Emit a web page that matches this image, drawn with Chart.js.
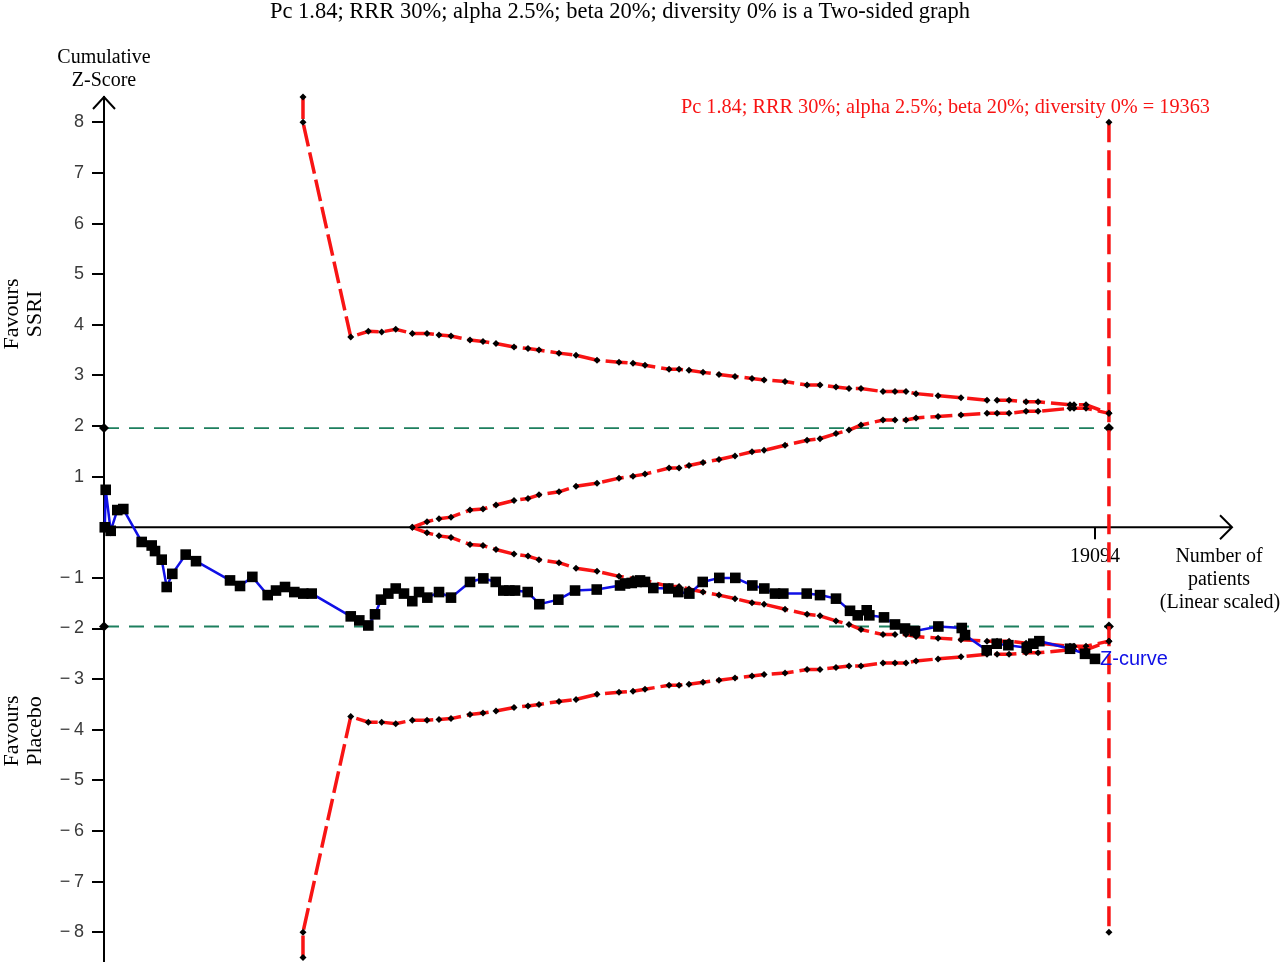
<!DOCTYPE html>
<html>
<head>
<meta charset="utf-8">
<title>Trial sequential analysis</title>
<script src="https://cdn.jsdelivr.net/npm/chart.js@4.4.0/dist/chart.umd.min.js"></script>
<style>
  html, body { margin: 0; padding: 0; background: #fff; }
  #wrap { width: 1283px; height: 962px; position: relative; }
</style>
</head>
<body>
<div id="wrap"><canvas id="chart-tsa" width="1283" height="962"></canvas></div>
<script>
// ========================================
// TSA chart — cumulative Z-curve vs monitoring boundaries
// ========================================

const TITLE = 'Pc 1.84; RRR 30%; alpha 2.5%; beta 20%; diversity 0% is a Two-sided graph';
const RIS_LABEL = 'Pc 1.84; RRR 30%; alpha 2.5%; beta 20%; diversity 0% = 19363';

// Z-curve (cumulative patients, cumulative Z)
const zPatients = [15, 33, 129, 256, 372, 726, 919, 983, 1112, 1208, 1316, 1574, 1773, 2428, 2621,
  2858, 3154, 3314, 3488, 3667, 3840, 4002, 4754, 4919, 5093, 5222, 5337, 5478, 5621, 5780,
  5940, 6070, 6230, 6455, 6686, 7052, 7309, 7548, 7694, 7810, 7920, 8164, 8388, 8754, 9076,
  9494, 9943, 10039, 10168, 10264, 10328, 10424, 10584, 10873, 11066, 11278, 11536, 11856, 12164, 12492,
  12723, 12929, 13089, 13540, 13796, 14104, 14374, 14523, 14696, 14746, 15029, 15241, 15434, 15627, 16076,
  16527, 16590, 17008, 17201, 17425, 17779, 17906, 18022, 18613, 18902, 19094];
const zScores = [0.0, 0.74, -0.07, 0.34, 0.36, -0.29, -0.36, -0.47, -0.64, -1.18, -0.92, -0.54, -0.67, -1.05, -1.16,
  -0.98, -1.34, -1.25, -1.18, -1.28, -1.31, -1.31, -1.76, -1.84, -1.94, -1.72, -1.43, -1.31, -1.21, -1.31,
  -1.46, -1.28, -1.39, -1.28, -1.39, -1.08, -1.01, -1.08, -1.25, -1.25, -1.25, -1.28, -1.52, -1.43, -1.25,
  -1.23, -1.15, -1.11, -1.10, -1.08, -1.05, -1.08, -1.20, -1.21, -1.28, -1.31, -1.08, -1.00, -1.00, -1.15,
  -1.21, -1.31, -1.31, -1.31, -1.34, -1.41, -1.65, -1.74, -1.64, -1.74, -1.78, -1.92, -2.00, -2.05, -1.96,
  -1.99, -2.13, -2.43, -2.30, -2.33, -2.38, -2.30, -2.25, -2.40, -2.50, -2.60];

// Outer monitoring boundaries
const outerPatients = [3834, 3834, 4754, 5093, 5351, 5621, 5941, 6224, 6455, 6686, 7052, 7303, 7553, 7900, 8170,
  8382, 8767, 9095, 9499, 9923, 10193, 10424, 10887, 11080, 11272, 11542, 11850, 12158, 12486, 12718,
  13122, 13546, 13796, 14104, 14355, 14586, 15010, 15241, 15453, 15646, 16070, 16513, 17014, 17207, 17438,
  17766, 17997, 18613, 18690, 18921, 19363];
const outerUpper = [8.5, 8.0, 3.76, 3.87, 3.86, 3.91, 3.83, 3.83, 3.80, 3.78, 3.70, 3.67, 3.63, 3.56, 3.53,
  3.50, 3.44, 3.40, 3.30, 3.26, 3.24, 3.20, 3.12, 3.12, 3.10, 3.06, 3.02, 2.98, 2.94, 2.91,
  2.88, 2.81, 2.81, 2.77, 2.74, 2.74, 2.68, 2.68, 2.68, 2.64, 2.60, 2.56, 2.51, 2.51, 2.51,
  2.48, 2.48, 2.42, 2.42, 2.42, 2.25];
const outerLower = [-8.5, -8.0, -3.74, -3.85, -3.85, -3.88, -3.81, -3.81, -3.80, -3.78, -3.70, -3.67, -3.63, -3.56, -3.53,
  -3.50, -3.44, -3.40, -3.30, -3.26, -3.24, -3.20, -3.12, -3.12, -3.10, -3.06, -3.02, -2.98, -2.94, -2.91,
  -2.88, -2.81, -2.81, -2.77, -2.74, -2.74, -2.68, -2.68, -2.68, -2.64, -2.60, -2.56, -2.51, -2.51, -2.51,
  -2.48, -2.48, -2.42, -2.42, -2.42, -2.25];

// Inner (futility) boundaries
const innerPatients = [5941, 6224, 6455, 6686, 7052, 7303, 7553, 7900, 8170, 8382, 8767, 9095, 9499, 9923, 10193,
  10424, 10887, 11080, 11272, 11542, 11850, 12158, 12486, 12718, 13122, 13546, 13796, 14104, 14355, 14586,
  15010, 15241, 15453, 15646, 16070, 16513, 17014, 17207, 17438, 17766, 17997, 18613, 18690, 18921, 19363];
const innerUpper = [0.0, 0.11, 0.17, 0.20, 0.34, 0.36, 0.44, 0.53, 0.57, 0.64, 0.70, 0.81, 0.87, 0.97, 1.01,
  1.05, 1.17, 1.17, 1.22, 1.28, 1.34, 1.41, 1.49, 1.52, 1.62, 1.72, 1.75, 1.85, 1.92, 2.02,
  2.12, 2.12, 2.12, 2.16, 2.19, 2.22, 2.25, 2.25, 2.25, 2.29, 2.29, 2.35, 2.35, 2.35, 2.25];
const innerLower = [0.0, -0.11, -0.17, -0.20, -0.34, -0.36, -0.44, -0.53, -0.57, -0.64, -0.70, -0.81, -0.87, -0.97, -1.01,
  -1.05, -1.17, -1.17, -1.22, -1.28, -1.34, -1.41, -1.49, -1.52, -1.62, -1.72, -1.75, -1.85, -1.92, -2.02,
  -2.12, -2.12, -2.12, -2.16, -2.19, -2.22, -2.25, -2.25, -2.25, -2.29, -2.29, -2.35, -2.35, -2.35, -2.25];

// Conventional limits and required information size
const conventionalZ = [1.96, -1.96];
const conventionalX = [0, 19363];
const risX = [19363, 19363];
const risY = [8, -8];

// Axes
const yTicks = [-8, -7, -6, -5, -4, -3, -2, -1, 1, 2, 3, 4, 5, 6, 7, 8];
const xTicks = [19094];
const X_MAX = 21734;

const RED = '#f81414';
const GREEN = '#1d7f5e';
const BLUE = '#1010e6';
const SERIF = '"Liberation Serif", "Times New Roman", serif';
const SANS = '"Liberation Sans", Arial, sans-serif';

const pts = (xs, ys) => xs.map((x, i) => ({ x, y: ys[i] }));

function boundaryDataset(xs, ys) {
  return {
    data: pts(xs, ys),
    showLine: true,
    borderColor: RED,
    borderWidth: 3.5,
    borderDash: [22, 6],
    pointStyle: 'rectRot',
    pointRadius: 3.5,
    pointBackgroundColor: '#000',
    pointBorderColor: '#000',
    pointBorderWidth: 0,
    clip: false,
    order: 2,
  };
}

/**
 * Annotations — axes arrows, x tick, text labels
 */
const annotations = {
  id: 'annotations',
  beforeDatasetsDraw(chart) {
    const { ctx, chartArea, scales: { x, y } } = chart;
    const y0 = y.getPixelForValue(0);
    const xEnd = x.getPixelForValue(X_MAX);
    ctx.save();
    ctx.strokeStyle = '#000';
    ctx.lineWidth = 2;
    // x axis with arrow
    ctx.beginPath();
    ctx.moveTo(chartArea.left, y0);
    ctx.lineTo(xEnd, y0);
    ctx.moveTo(xEnd - 12, y0 - 12);
    ctx.lineTo(xEnd, y0);
    ctx.lineTo(xEnd - 12, y0 + 12);
    ctx.stroke();
    // y axis arrow head + run down to the bottom edge
    ctx.beginPath();
    ctx.moveTo(chartArea.left - 11, chartArea.top + 12);
    ctx.lineTo(chartArea.left, chartArea.top);
    ctx.lineTo(chartArea.left + 11, chartArea.top + 12);
    ctx.moveTo(chartArea.left, chartArea.bottom);
    ctx.lineTo(chartArea.left, chart.height);
    ctx.stroke();
    // x tick
    ctx.fillStyle = '#000';
    ctx.font = '20px ' + SERIF;
    ctx.textAlign = 'center';
    ctx.textBaseline = 'middle';
    xTicks.forEach(v => {
      const px = x.getPixelForValue(v);
      ctx.beginPath();
      ctx.moveTo(px, y0);
      ctx.lineTo(px, y0 + 12);
      ctx.stroke();
      ctx.fillText(String(v), px, y0 + 29);
    });
    ctx.restore();
  },
  afterDraw(chart) {
    const { ctx } = chart;
    ctx.save();
    ctx.fillStyle = '#000';
    ctx.textBaseline = 'middle';
    ctx.textAlign = 'center';

    ctx.font = '22.5px ' + SERIF;
    ctx.fillText(TITLE, 620, 12);

    ctx.font = '20px ' + SERIF;
    ctx.fillText('Cumulative', 104, 58);
    ctx.fillText('Z-Score', 104, 81);

    ctx.fillText('Number of', 1219, 557);
    ctx.fillText('patients', 1219, 580);
    ctx.fillText('(Linear scaled)', 1220, 603);

    ctx.fillStyle = RED;
    ctx.textAlign = 'right';
    ctx.font = '20.3px ' + SERIF;
    ctx.fillText(RIS_LABEL, 1210, 108);

    ctx.fillStyle = BLUE;
    ctx.textAlign = 'left';
    ctx.font = '20px ' + SANS;
    ctx.fillText('Z-curve', 1100, 659);

    // rotated side labels
    ctx.fillStyle = '#000';
    ctx.font = '22px ' + SERIF;
    const side = (lines, cy) => {
      ctx.save();
      ctx.translate(0, cy);
      ctx.rotate(-Math.PI / 2);
      ctx.textAlign = 'center';
      lines.forEach((t, i) => ctx.fillText(t, 0, 12 + i * 23));
      ctx.restore();
    };
    side(['Favours', 'SSRI'], 314);
    side(['Favours', 'Placebo'], 731);
    ctx.restore();
  }
};

const ctx = document.getElementById('chart-tsa').getContext('2d');
new Chart(ctx, {
  type: 'scatter',
  data: {
    datasets: [
      {
        data: pts(zPatients, zScores),
        showLine: true,
        borderColor: BLUE,
        borderWidth: 2.5,
        pointStyle: 'rect',
        pointRadius: 7.5,
        pointBackgroundColor: '#000',
        pointBorderColor: '#000',
        pointBorderWidth: 0,
        clip: false,
        order: 0,
      },
      boundaryDataset(outerPatients, outerUpper),
      boundaryDataset(outerPatients, outerLower),
      boundaryDataset(innerPatients, innerUpper),
      boundaryDataset(innerPatients, innerLower),
      {
        data: pts(risX, risY),
        showLine: true,
        borderColor: RED,
        borderWidth: 3.5,
        borderDash: [20, 8],
        pointStyle: 'rectRot',
        pointRadius: 3.5,
        pointBackgroundColor: '#000',
        pointBorderWidth: 0,
        clip: false,
        order: 3,
      },
      ...conventionalZ.map(z => ({
        data: pts(conventionalX, conventionalX.map(() => z)),
        showLine: true,
        borderColor: GREEN,
        borderWidth: 1.8,
        borderDash: [15, 10],
        pointStyle: 'rectRot',
        pointRadius: 5,
        pointBackgroundColor: '#000',
        pointBorderWidth: 0,
        clip: false,
        order: 4,
      })),
    ]
  },
  options: {
    responsive: false,
    devicePixelRatio: 1,
    animation: false,
    layout: { padding: { top: 97, right: 51, bottom: 0, left: 0 } },
    scales: {
      x: { type: 'linear', display: false, min: 0, max: X_MAX },
      y: {
        type: 'linear',
        min: -8.44,
        max: 8.5,
        afterFit: (scale) => {
          scale.width = 104;
          scale.paddingTop = 0;
          scale.paddingBottom = 0;
        },
        afterBuildTicks: (scale) => { scale.ticks = yTicks.map(v => ({ value: v })); },
        grid: { drawOnChartArea: false, drawTicks: true, tickLength: 12, color: '#000', lineWidth: 2 },
        border: { display: true, color: '#000', width: 2 },
        ticks: {
          padding: 8,
          color: '#3a3a3a',
          font: { family: SANS, size: 18 },
          callback: (v) => v < 0 ? '\u2212\u2009' + Math.abs(v) : String(v),
        }
      }
    },
    plugins: {
      legend: { display: false },
      tooltip: { enabled: false },
      title: { display: false }
    }
  },
  plugins: [annotations]
});
</script>
</body>
</html>
